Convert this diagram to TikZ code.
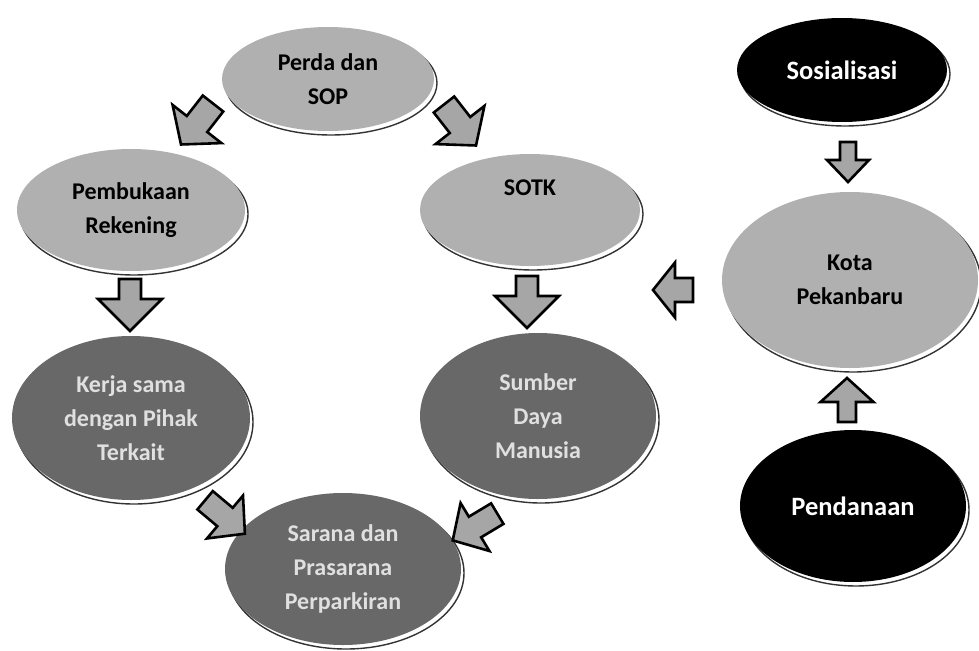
\documentclass[tikz,border=0pt]{standalone}
\usepackage{fontspec}
\setmainfont{Carlito}
\usetikzlibrary{shapes.geometric,shadows,calc}
\definecolor{lightg}{HTML}{B0B0B0}
\definecolor{darkg}{HTML}{686868}
\definecolor{arrowg}{HTML}{A6A6A6}
\tikzset{
  ell/.style={ellipse, inner sep=0pt, align=center,
    font=\bfseries\fontsize{24}{34}\selectfont,
    general shadow={shadow xshift=3pt, shadow yshift=-4pt, fill=white, draw=black!80, line width=1.4pt}},
  lightell/.style={ell, fill=lightg, text=black},
  darkell/.style={ell, fill=darkg, text=white!88!black},
  nightell/.style={ell, fill=black, text=white, font=\bfseries\fontsize{26.5}{34}\selectfont},
  sz/.style 2 args={minimum width=#1, minimum height=#2},
  ba len/.store in=\baL, ba shaft/.store in=\baW, ba head/.store in=\baH, ba hlen/.store in=\baHL,
  ba len=52, ba shaft=22, ba head=64, ba hlen=32,
  arrowbody/.style={fill=arrowg, draw=black, line width=2.6pt, line join=miter},
  barrow/.pic={
    \path[arrowbody] ({-\baL/2},{-\baW/2}) -- ({\baL/2-\baHL},{-\baW/2}) -- ({\baL/2-\baHL},{-\baH/2})
      -- ({\baL/2},0) -- ({\baL/2-\baHL},{\baH/2}) -- ({\baL/2-\baHL},{\baW/2}) -- ({-\baL/2},{\baW/2}) -- cycle;
  }
}
\begin{document}
\begin{tikzpicture}[x=1pt,y=-1pt]
\useasboundingbox (0,0) rectangle (979,650);
% ellipses
\node[lightell, sz={212pt}{104pt}] (perda) at (328,79) {Perda dan\\SOP};
\node[lightell, sz={228pt}{122pt}] (pemb) at (131,210) {Pembukaan\\Rekening};
\node[lightell, sz={220pt}{112pt}] (sotk) at (530,210) {SOTK\\[10pt]\mbox{}};
\node[darkell, sz={238pt}{164pt}] (kerja) at (131,418) {Kerja sama\\dengan Pihak\\Terkait};
\node[darkell, sz={236pt}{166pt}] (sdm) at (538,416) {Sumber\\Daya\\Manusia};
\node[darkell, sz={236pt}{152pt}] (sarana) at (343,569) {Sarana dan\\Prasarana\\Perparkiran};
\node[nightell, sz={210pt}{104pt}] (sos) at (842,70) {Sosialisasi};
\node[lightell, sz={256pt}{176pt}] (kota) at (850,280) {Kota\\Pekanbaru};
\node[nightell, sz={226pt}{152pt}] (dana) at (853,506) {Pendanaan};
% block arrows
\pic[rotate=232, ba len=52, ba shaft=26, ba head=62, ba hlen=26] at (197,124) {barrow};
\pic[rotate=308, ba len=52, ba shaft=26, ba head=62, ba hlen=26] at (460,125) {barrow};
\pic[rotate=270] at (130,305) {barrow};
\pic[rotate=270] at (527,302) {barrow};
\pic[rotate=180, ba len=40, ba shaft=24, ba head=55, ba hlen=22] at (673,290) {barrow};
\pic[rotate=270, ba len=40, ba shaft=16, ba head=42, ba hlen=22] at (848,162) {barrow};
\pic[rotate=90, ba len=44, ba shaft=18, ba head=53, ba hlen=24] at (847,400) {barrow};
\pic[rotate=320, ba len=52, ba shaft=24, ba head=56, ba hlen=26] at (225,517) {barrow};
\pic[rotate=211, ba len=52, ba shaft=24, ba head=56, ba hlen=26] at (475,527) {barrow};
\end{tikzpicture}
\end{document}
